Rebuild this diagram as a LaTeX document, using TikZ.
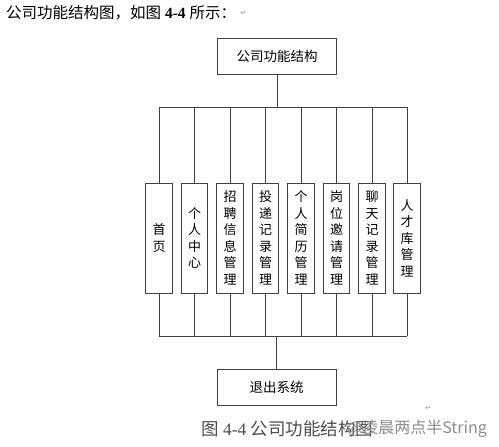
\documentclass[tikz,border=0pt]{standalone}
\usepackage{fontspec}
\setmainfont{Liberation Serif}
\newfontfamily\cjk{Noto Sans CJK SC}
\newfontfamily\symfont{DejaVu Sans}
\begin{document}
\begin{tikzpicture}[x=1pt,y=-1pt,
  line/.style={draw=black!75, line width=0.8pt},
  bigbox/.style={line, fill=white, minimum width=119pt, minimum height=36pt, inner sep=0pt,
    font=\fontsize{13.5}{16}\selectfont\cjk},
  vbox/.style={line, fill=white, minimum width=26.5pt, minimum height=110pt, inner sep=0pt,
    align=center, font=\fontsize{13}{16.5}\selectfont\cjk},
  retmark/.style={text=black!45, font=\fontsize{7}{8}\selectfont\symfont, inner sep=0pt}]
\useasboundingbox (0,0) rectangle (499,447);
\fill[white] (0,0) rectangle (499,447);

% header line
\node[anchor=west, inner sep=0pt, font=\fontsize{15.5}{17}\selectfont] (hdr) at (6,13)
  {{\cjk 公司功能结构图，如图} \textbf{4-4} {\cjk 所示：}};
\node[retmark, anchor=west] (r1) at ([xshift=4pt]hdr.east) {↵};

% top and bottom boxes
\node[bigbox] (top) at (277,56) {公司功能结构};
\node[bigbox] (bot) at (276.5,387.5) {退出系统};

% module boxes
\node[vbox] (m1) at (159,238) {首\\页};
\node[vbox] (m2) at (194.5,238) {个\\人\\中\\心};
\node[vbox] (m3) at (230,238) {招\\聘\\信\\息\\管\\理};
\node[vbox] (m4) at (265.5,238) {投\\递\\记\\录\\管\\理};
\node[vbox] (m5) at (301,238) {个\\人\\简\\历\\管\\理};
\node[vbox] (m6) at (336.5,238) {岗\\位\\邀\\请\\管\\理};
\node[vbox] (m7) at (372,238) {聊\\天\\记\\录\\管\\理};
\node[vbox] (m8) at (407,238) {人\\才\\库\\管\\理};

% bus coordinates
\coordinate (tb) at (277,107);
\coordinate (bb) at (276.5,336);

\draw[line] (top.south) -- (tb);
\draw[line] (m1.north |- tb) -- (m8.north |- tb);
\draw[line] (m1.south |- bb) -- (m8.south |- bb);
\draw[line] (bb) -- (bot.north);
\foreach \m in {m1,m2,m3,m4,m5,m6,m7,m8} {
  \draw[line] (\m.north |- tb) -- (\m.north);
  \draw[line] (\m.south) -- (\m.south |- bb);
}

% caption and watermark
\node[retmark] (r2) at (428,408) {↵};
\node[anchor=west, inner sep=0pt, text=black!70, font=\fontsize{17.5}{19}\selectfont] (cap) at (201,429)
  {{\cjk 图} 4-4 {\cjk 公司功能结构图}};
\node[anchor=east, inner sep=0pt, text=black!45, font=\fontsize{16}{18}\selectfont\cjk] (wm) at (487,429)
  {@凌晨两点半String};
\end{tikzpicture}
\end{document}
